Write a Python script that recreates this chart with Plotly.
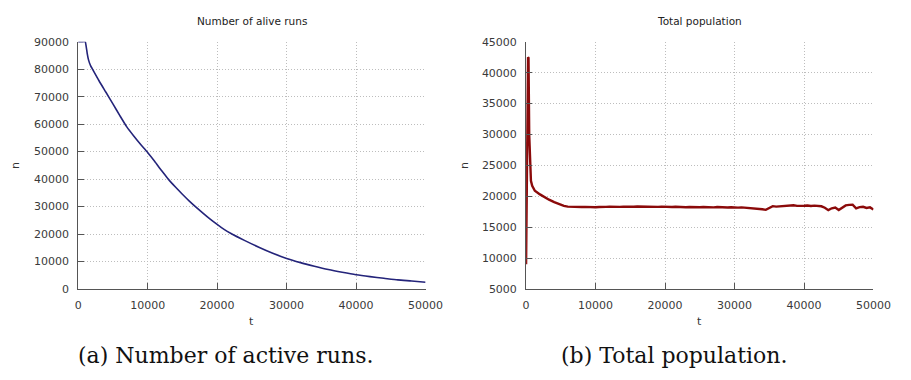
import plotly.graph_objects as go

# ---- data: (a) number of alive runs ----
t_alive = [0, 500, 1000, 1150, 1300, 1500, 1800, 2000, 3000, 4000, 5000, 6000,
           7000, 8000, 9000, 10000, 11000, 12000, 13000, 14000, 15000, 16000,
           17000, 18000, 19000, 20000, 21000, 22000, 24000, 26000, 28000, 30000,
           32000, 34000, 36000, 38000, 40000, 42000, 44000, 46000, 48000, 50000]
n_alive = [90000, 90000, 90000, 88300, 85800, 83300, 81200, 80300, 75800, 71600,
           67400, 63100, 59000, 55700, 52600, 49700, 46500, 43100, 39900, 37100,
           34500, 32000, 29700, 27500, 25400, 23500, 21700, 20200, 17600, 15200,
           13000, 11100, 9600, 8300, 7100, 6100, 5200, 4500, 3900, 3300, 2900, 2450]

# ---- data: (b) total population ----
t_pop = [0, 150, 280, 350, 450, 560, 700, 880, 1260, 2000, 2650, 3300, 4050, 4700,
         5440, 6000, 6600,
         7000, 7500, 8000, 8500, 9000, 9500, 10000, 10500, 11000, 11500, 12000,
         12500, 13000, 13500, 14000, 14500, 15000, 15500, 16000, 16500, 17000,
         17500, 18000, 18500, 19000, 19500, 20000, 20500, 21000, 21500, 22000,
         22500, 23000, 23500, 24000, 24500, 25000, 25500, 26000, 26500, 27000,
         27500, 28000, 28500, 29000, 29500, 30000, 30500, 31000, 31500, 32000,
         32500, 33000, 33500, 34000, 34500, 35000, 35500, 36000, 36500, 37000,
         37500, 38000, 38500, 39000, 39500, 40000, 40500, 41000, 41500, 42000,
         42500, 43000, 43500, 44000, 44500, 45000, 45500, 46000, 46500, 47000,
         47500, 48000, 48500, 49000, 49500, 50000]
n_pop = [9000, 25000, 42500, 42400, 30000, 24500, 22500, 21700, 20900, 20300, 19840,
         19450, 19060, 18750, 18440, 18330, 18290,
         18280, 18300, 18260, 18290, 18240, 18270, 18230, 18260, 18220, 18280, 18300,
         18270, 18310, 18290, 18320, 18280, 18330, 18300, 18350, 18320, 18340,
         18290, 18260, 18310, 18280, 18330, 18290, 18320, 18260, 18300, 18240,
         18280, 18230, 18250, 18210, 18260, 18230, 18270, 18220, 18240, 18200,
         18250, 18210, 18230, 18180, 18220, 18140, 18170, 18200, 18150, 18210,
         18160, 18120, 18050, 17900, 17800, 18150, 18400, 18320, 18380, 18430,
         18400, 18480, 18540, 18450, 18520, 18470, 18500, 18420, 18480, 18400,
         18380, 18150, 17750, 18050, 18180, 17780, 18200, 18520, 18600, 18640,
         18050, 18250, 18300, 18100, 18200, 17850]

x_ticks = [0, 10000, 20000, 30000, 40000, 50000]
y_ticks_a = [0, 10000, 20000, 30000, 40000, 50000, 60000, 70000, 80000, 90000]
y_ticks_b = [5000, 10000, 15000, 20000, 25000, 30000, 35000, 40000, 45000]

W, H = 911, 380
def px(x): return x / W
def py(y): return 1 - y / H

fig = go.Figure()
fig.add_trace(go.Scatter(x=t_alive, y=n_alive, mode="lines",
                         line=dict(color="#24247a", width=1.6, shape="spline",
                                   smoothing=0.6),
                         xaxis="x", yaxis="y", showlegend=False))
fig.add_trace(go.Scatter(x=t_pop, y=n_pop, mode="lines",
                         line=dict(color="#8b0a0a", width=2.4), xaxis="x2", yaxis="y2",
                         showlegend=False))

tickfont = dict(family="DejaVu Sans", size=11, color="#3a3a3a")
common_axis = dict(showline=True, linecolor="#555555", linewidth=1,
                   ticks="inside", ticklen=6, tickcolor="#555555", tickwidth=1,
                   showgrid=True, gridcolor="#bdbdbd", griddash="1px,2px", gridwidth=1,
                   zeroline=False, tickfont=tickfont, mirror=False,
                   tickformat="d", ticklabelstandoff=6)

fig.update_layout(
    width=W, height=H, margin=dict(l=0, r=0, t=0, b=0),
    paper_bgcolor="white", plot_bgcolor="white",
    xaxis=dict(domain=[px(76), px(432)], range=[0, 50000], tickvals=x_ticks,
               anchor="y", **common_axis),
    yaxis=dict(domain=[py(293), py(37)], range=[0, 90000], tickvals=y_ticks_a,
               anchor="x", **common_axis),
    xaxis2=dict(domain=[px(535), px(891)], range=[0, 50000], tickvals=x_ticks,
                anchor="y2", **common_axis),
    yaxis2=dict(domain=[py(293), py(37)], range=[5000, 45000], tickvals=y_ticks_b,
                anchor="x2", **common_axis),
)

lab = dict(family="DejaVu Sans", size=11, color="#333333")
ttl = dict(family="DejaVu Sans", size=10.5, color="#222222")
cap = dict(family="DejaVu Serif", size=22, color="#111111")
anns = [
    dict(text="Number of alive runs", x=px(254), y=py(16), font=ttl),
    dict(text="Total population", x=px(713), y=py(16), font=ttl),
    dict(text="n", x=px(12), y=py(165), font=lab, textangle=-90),
    dict(text="n", x=px(472), y=py(165), font=lab, textangle=-90),
    dict(text="t", x=px(254), y=py(327), font=lab),
    dict(text="t", x=px(713), y=py(327), font=lab),
    dict(text="(a) Number of active runs.", x=px(227), y=py(362), font=cap),
    dict(text="(b) Total population.", x=px(687), y=py(362), font=cap),
]
for a in anns:
    fig.add_annotation(xref="paper", yref="paper", showarrow=False,
                       xanchor="center", yanchor="middle", **a)

fig.write_html("out.html")
